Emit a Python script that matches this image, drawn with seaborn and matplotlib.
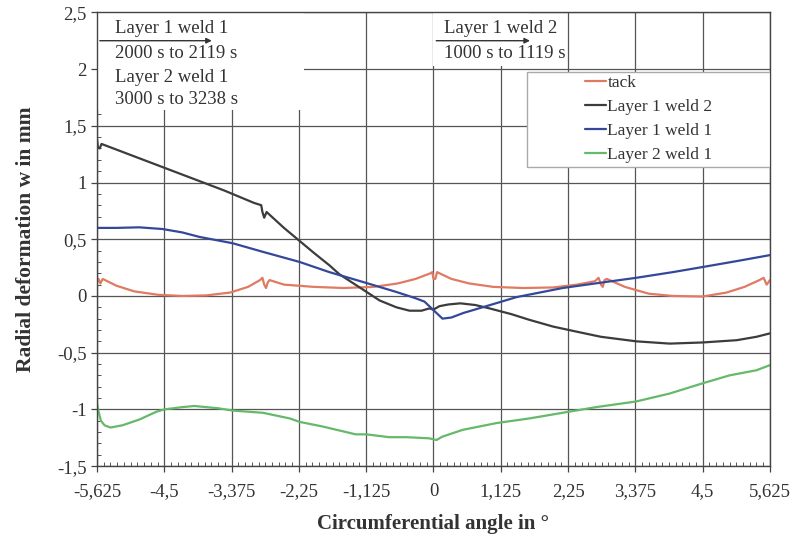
import numpy as np
import pandas as pd
import matplotlib
matplotlib.use("Agg")
import matplotlib.pyplot as plt
from matplotlib.patches import Rectangle
from matplotlib.ticker import MultipleLocator, FixedLocator
import seaborn as sns

# Data (angle in degrees, deformation in mm)
tack_x = [-5.625, -5.60, -5.57, -5.53, -5.3, -5.0, -4.6, -4.2, -3.8, -3.4, -3.1, -2.9, -2.86,
          -2.83, -2.80, -2.77, -2.74, -2.5, -2.0, -1.5, -1.0, -0.6, -0.3, -0.05, -0.02, 0.0,
          0.03, 0.06, 0.3, 0.6, 1.0, 1.5, 2.0, 2.4, 2.7, 2.76, 2.80, 2.83, 2.86, 2.9, 3.2,
          3.6, 4.0, 4.5, 4.9, 5.2, 5.45, 5.52, 5.57, 5.60, 5.625]
tack_y = [0.12, 0.15, 0.11, 0.15, 0.09, 0.04, 0.01, 0.0, 0.005, 0.03, 0.08, 0.14, 0.16,
          0.10, 0.07, 0.12, 0.14, 0.10, 0.08, 0.07, 0.08, 0.11, 0.15, 0.20, 0.21, 0.15,
          0.15, 0.21, 0.15, 0.11, 0.08, 0.07, 0.075, 0.10, 0.13, 0.16, 0.10, 0.08, 0.14, 0.15, 0.08,
          0.02, 0.0, -0.005, 0.03, 0.08, 0.14, 0.16, 0.10, 0.12, 0.14]

l1w2_x = [-5.625, -5.61, -5.58, -5.55, -5.5, -5.0, -4.5, -4.0, -3.5, -3.0, -2.88, -2.86, -2.83,
          -2.79, -2.5, -2.25, -2.0, -1.74, -1.57, -1.19, -0.9, -0.62, -0.4, -0.2, -0.07, 0.0,
          0.1, 0.25, 0.45, 0.7, 0.94, 1.3, 1.6, 2.0, 2.44, 2.8, 3.39, 3.95, 4.5, 5.07, 5.4, 5.625]
l1w2_y = [1.38, 1.31, 1.30, 1.34, 1.33, 1.23, 1.13, 1.03, 0.93, 0.82, 0.80, 0.74, 0.69,
          0.74, 0.60, 0.49, 0.38, 0.27, 0.19, 0.06, -0.04, -0.10, -0.13, -0.13, -0.11, -0.12,
          -0.09, -0.075, -0.065, -0.08, -0.11, -0.16, -0.21, -0.27, -0.32, -0.36, -0.40, -0.42,
          -0.41, -0.39, -0.36, -0.33]

l1w1_x = [-5.625, -5.3, -4.92, -4.53, -4.2, -3.91, -3.36, -2.86, -2.24, -1.74, -1.19, -0.62,
          -0.3, -0.15, -0.05, 0.05, 0.15, 0.3, 0.5, 0.82, 1.39, 2.16, 2.7, 3.39, 4.0, 4.5, 5.1, 5.625]
l1w1_y = [0.60, 0.60, 0.605, 0.59, 0.56, 0.52, 0.465, 0.39, 0.30, 0.21, 0.125, 0.035,
          -0.02, -0.05, -0.10, -0.15, -0.20, -0.19, -0.15, -0.10, -0.01, 0.07, 0.11, 0.16, 0.21,
          0.255, 0.31, 0.36]

l2w1_x = [-5.625, -5.6, -5.56, -5.5, -5.4, -5.2, -4.92, -4.63, -4.5, -4.2, -4.0, -3.8, -3.6,
          -3.36, -2.85, -2.4, -2.24, -1.86, -1.3, -1.12, -0.74, -0.45, -0.07, 0.05, 0.15, 0.49,
          1.06, 1.6, 2.27, 2.72, 3.39, 3.95, 4.5, 4.95, 5.4, 5.625]
l2w1_y = [-0.95, -1.02, -1.10, -1.14, -1.16, -1.14, -1.09, -1.02, -1.00, -0.98, -0.97, -0.98,
          -0.99, -1.01, -1.03, -1.08, -1.11, -1.15, -1.22, -1.22, -1.245, -1.245, -1.255, -1.27,
          -1.24, -1.18, -1.12, -1.08, -1.02, -0.98, -0.93, -0.86, -0.77, -0.70, -0.655, -0.61]

series_names = ["tack", "Layer 1 weld 2", "Layer 1 weld 1", "Layer 2 weld 1"]
series_colors = ["#e07a62", "#3c3c3c", "#34489a", "#66b86a"]

x_ticks = [-5.625, -4.5, -3.375, -2.25, -1.125, 0, 1.125, 2.25, 3.375, 4.5, 5.625]
x_tick_labels = ["-5,625", "-4,5", "-3,375", "-2,25", "-1,125", "0", "1,125", "2,25",
                 "3,375", "4,5", "5,625"]
y_ticks = [-1.5, -1.0, -0.5, 0.0, 0.5, 1.0, 1.5, 2.0, 2.5]
y_tick_labels = ["-1,5", "-1", "-0,5", "0", "0,5", "1", "1,5", "2", "2,5"]

frames = []
for name, xs, ys in zip(series_names, [tack_x, l1w2_x, l1w1_x, l2w1_x],
                        [tack_y, l1w2_y, l1w1_y, l2w1_y]):
    frames.append(pd.DataFrame({"angle": xs, "w": ys, "series": name}))
df = pd.concat(frames, ignore_index=True)

sns.set_theme(style="white")
plt.rcParams["font.family"] = ["Liberation Serif", "DejaVu Serif"]

fig = plt.figure(figsize=(8.02, 5.37), dpi=100)
ax = fig.add_axes([0.121, 0.132, 0.839, 0.845])

sns.lineplot(data=df, x="angle", y="w", hue="series", hue_order=series_names,
             palette=dict(zip(series_names, series_colors)), sort=False, estimator=None,
             linewidth=1.6, ax=ax, zorder=2)

ax.set_xlim(-5.625, 5.625)
ax.set_ylim(-1.5, 2.5)
ax.xaxis.set_major_locator(FixedLocator(x_ticks))
ax.set_xticklabels(x_tick_labels)
ax.yaxis.set_major_locator(FixedLocator(y_ticks))
ax.set_yticklabels(y_tick_labels)
ax.xaxis.set_minor_locator(MultipleLocator(0.1125))
ax.yaxis.set_minor_locator(MultipleLocator(0.1))
ax.tick_params(axis="both", which="major", direction="out", length=4, width=0.9,
               color="#444", labelsize=13.5, labelcolor="#333", bottom=True, left=True)
ax.tick_params(axis="both", which="minor", direction="in", length=3, width=0.7,
               color="#555", bottom=True, left=True)
ax.tick_params(axis="x", which="major", pad=8)

ax.set_axisbelow(True)
ax.grid(True, which="major", color="#555555", linewidth=0.9)
for s in ax.spines.values():
    s.set_color("#444")
    s.set_linewidth(1.0)

ax.set_xlabel("Circumferential angle in °", fontsize=15, fontweight="bold", color="#333")
ax.set_ylabel("Radial deformation w in mm", fontsize=15.5, fontweight="bold", color="#333")
ax.xaxis.set_label_coords(0.5, -0.105)
ax.yaxis.set_label_coords(-0.09, 0.5)

# white boxes behind the annotation text hide the grid
ax.add_patch(Rectangle((-5.625, 1.64), 3.465, 0.86, facecolor="white", edgecolor="none", zorder=1))
ax.add_patch(Rectangle((0.0, 2.03), 1.6, 0.47, facecolor="white", edgecolor="none", zorder=1))

txt = dict(fontsize=13.5, color="#333", va="center", ha="left", zorder=3)
ax.text(-5.33, 2.36, "Layer 1 weld 1", **txt)
ax.text(-5.33, 2.14, "2000 s to 2119 s", **txt)
ax.text(-5.33, 1.93, "Layer 2 weld 1", **txt)
ax.text(-5.33, 1.73, "3000 s to 3238 s", **txt)
ax.text(0.18, 2.36, "Layer 1 weld 2", **txt)
ax.text(0.18, 2.14, "1000 s to 1119 s", **txt)
arrow = dict(arrowstyle="-|>", color="#333", lw=1.0, mutation_scale=8)
ax.annotate("", xy=(-3.66, 2.25), xytext=(-5.625, 2.25), arrowprops=arrow, zorder=3)
ax.annotate("", xy=(1.66, 2.25), xytext=(0.0, 2.25), arrowprops=arrow, zorder=3)

# legend with its own box
ax.add_patch(Rectangle((0.639, 0.659), 0.361, 0.209, transform=ax.transAxes,
                       facecolor="white", edgecolor="#aaaaaa", linewidth=1.0, zorder=4))
leg = ax.legend(loc="upper left", bbox_to_anchor=(0.725, 0.862), frameon=False,
                fontsize=12.5, handlelength=1.2, handletextpad=0.1, borderpad=0,
                borderaxespad=0, labelspacing=0.45)
leg.set_zorder(5)
for t in leg.get_texts():
    t.set_color("#333")

fig.savefig("out.png", dpi=100, facecolor="white")
